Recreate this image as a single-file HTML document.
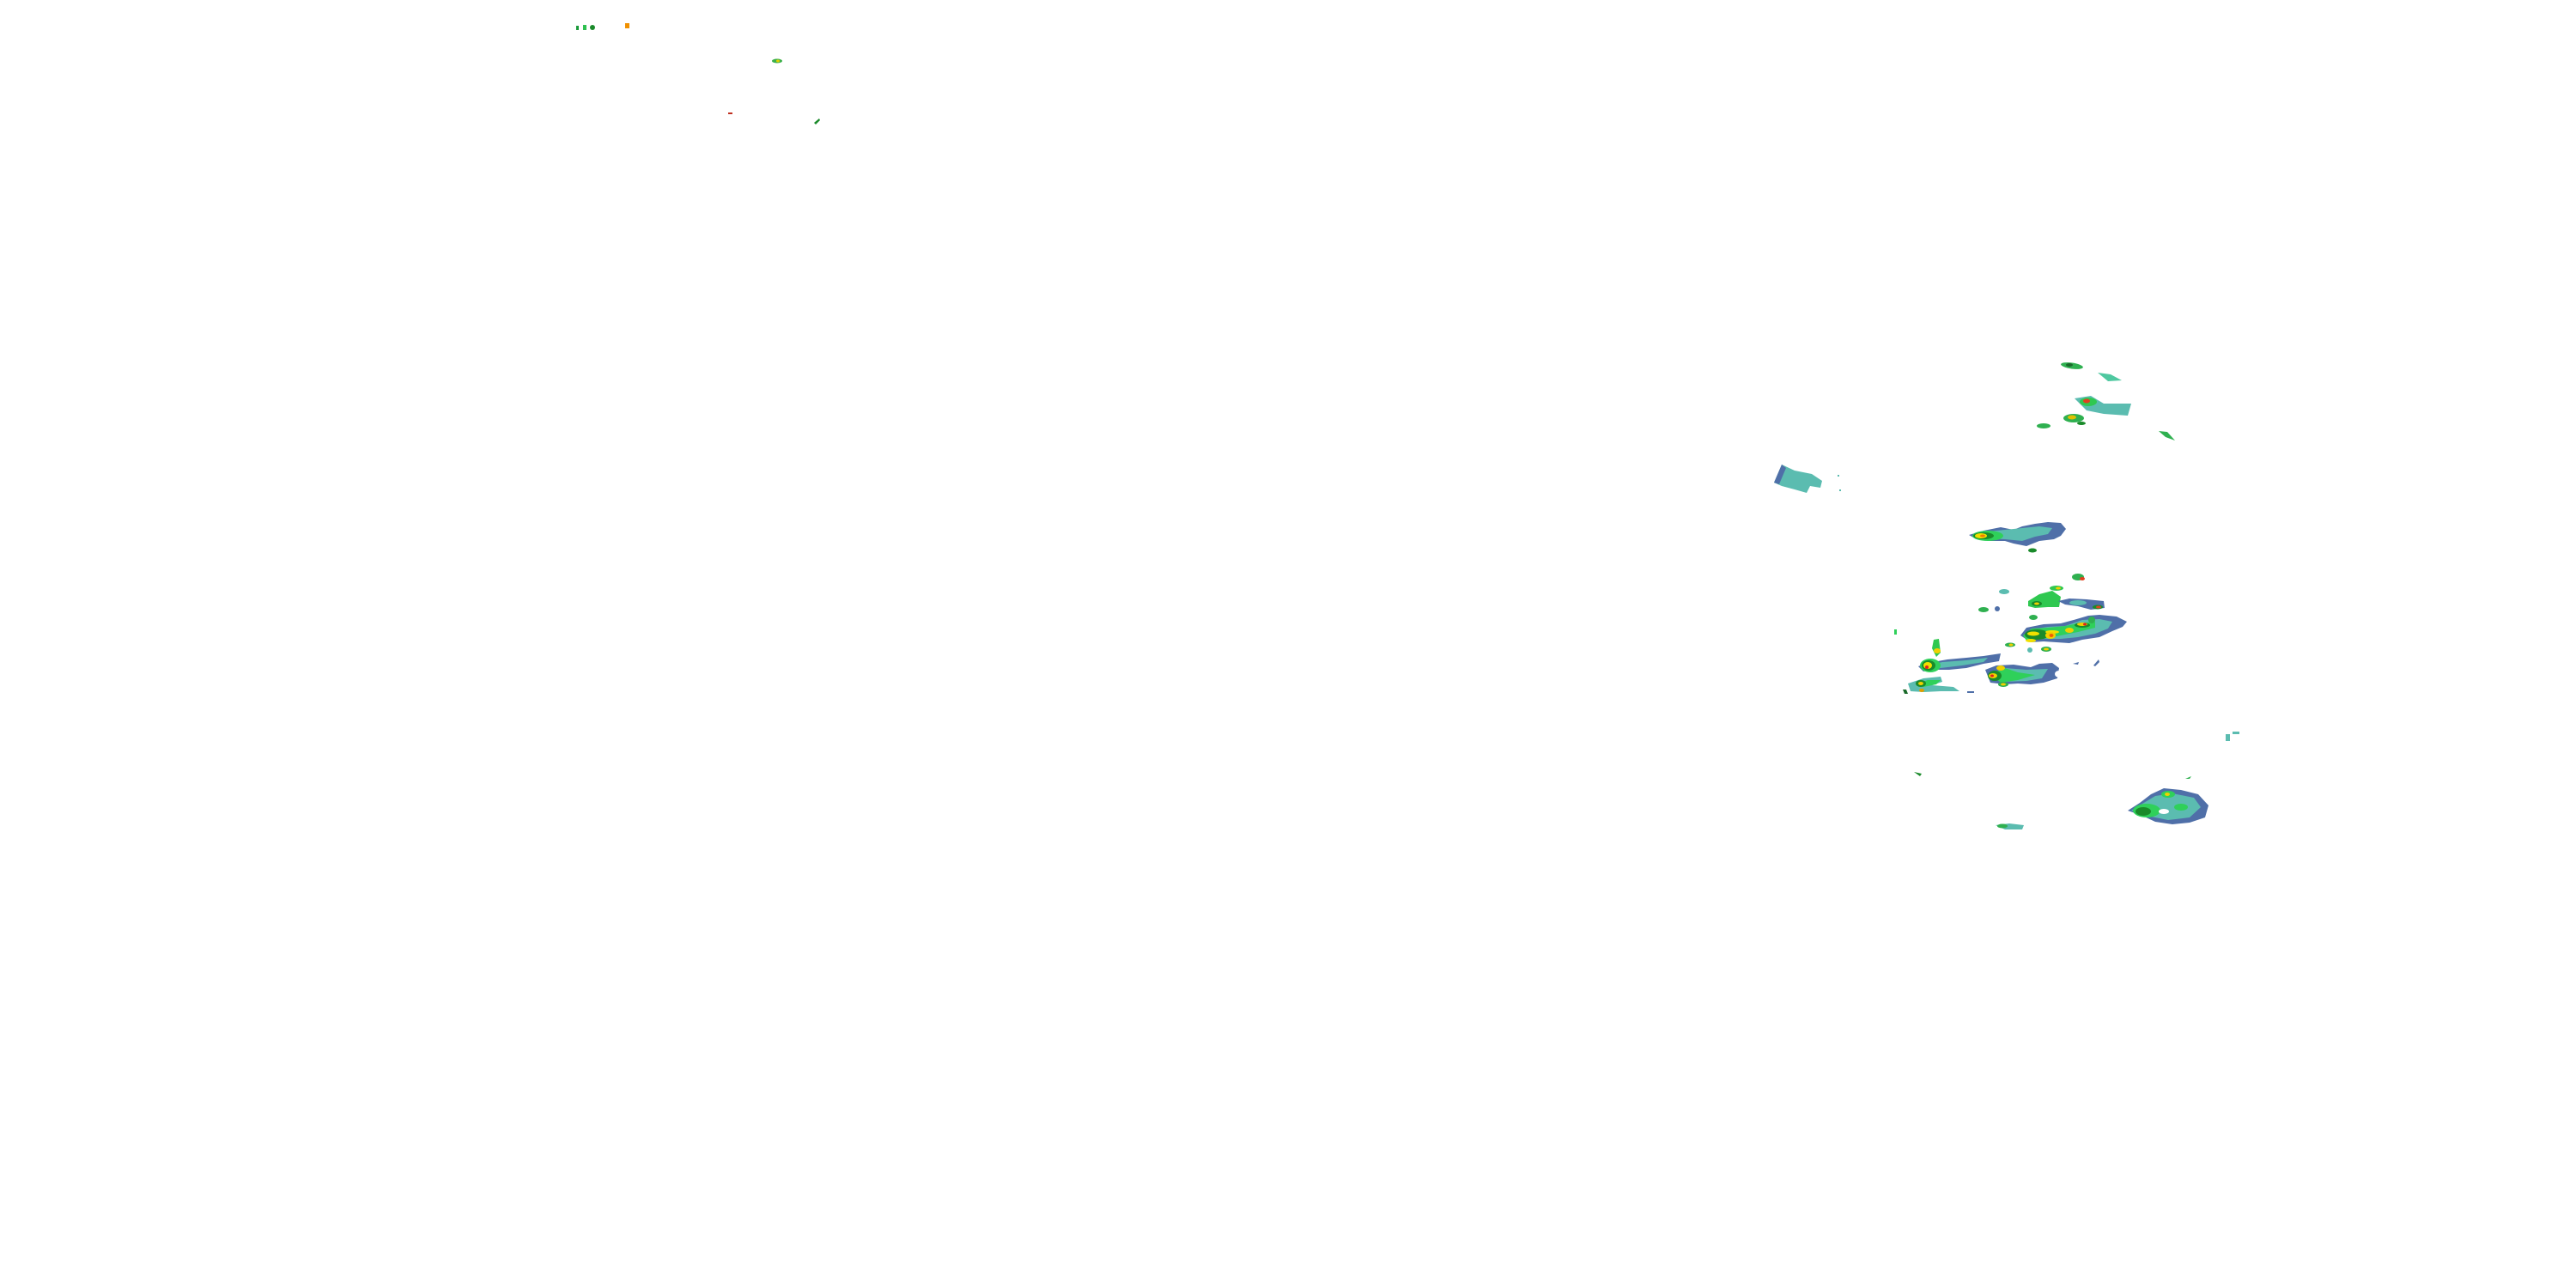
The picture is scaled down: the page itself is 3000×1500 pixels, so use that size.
<!DOCTYPE html>
<html><head><meta charset="utf-8"><style>html,body{margin:0;padding:0;background:#fff}svg{display:block}</style></head>
<body>
<svg width="3000" height="1500" viewBox="0 0 3000 1500" xmlns="http://www.w3.org/2000/svg">
<defs>
<g id="x"></g>
</defs>
<!-- top-left small echoes -->
<rect x="671" y="30" width="3" height="5" fill="#1a9a3a"/>
<rect x="679" y="29" width="4" height="6" fill="#2fc050"/>
<ellipse cx="690" cy="32" rx="3" ry="3" fill="#1a8a2a"/>
<rect x="728" y="27" width="5" height="6" fill="#f09000"/>
<ellipse cx="905" cy="71" rx="6" ry="2.5" fill="#3cb04a"/><ellipse cx="906" cy="71" rx="2" ry="1.5" fill="#e0d000"/>
<rect x="848" y="131" width="5" height="2" fill="#c03020"/>
<path d="M948 143 L954 138 L955 140 L950 145Z" fill="#1a8a2a"/>

<!-- north-east small cells -->
<ellipse cx="2413" cy="426" rx="13" ry="3.5" fill="#2fb050" transform="rotate(8 2413 426)"/>
<ellipse cx="2410" cy="425" rx="4" ry="2" fill="#1a6a2a"/>
<path d="M2443 434 L2458 436 L2471 443 L2455 444Z" fill="#4fc8a0"/>
<path d="M2416 464 L2435 461 L2450 470 L2482 470 L2478 484 L2450 482 L2430 478Z" fill="#5bbcb0"/>
<ellipse cx="2432" cy="468" rx="10" ry="5" fill="#2fc850"/><ellipse cx="2430" cy="467" rx="4" ry="2.5" fill="#e04020"/>
<ellipse cx="2415" cy="487" rx="12" ry="5" fill="#2fb050"/><ellipse cx="2413" cy="486" rx="5" ry="2.5" fill="#e0c000"/>
<ellipse cx="2424" cy="493" rx="5" ry="2" fill="#1a8a2a"/>
<ellipse cx="2380" cy="496" rx="8" ry="3" fill="#2fb050"/>
<path d="M2514 502 L2524 503 L2533 513 L2522 509Z" fill="#2fb050"/>

<!-- western teal cell -->
<path d="M2066 562 L2075 541 L2090 548 L2110 552 L2122 560 L2120 568 L2108 566 L2104 574 L2090 570 L2075 566Z" fill="#5bbcb0"/>
<path d="M2066 562 L2075 541 L2080 545 L2072 564Z" fill="#4f6fa8"/>
<rect x="2140" y="553" width="2" height="2" fill="#5bbcb0"/><rect x="2142" y="570" width="2" height="2" fill="#5bbcb0"/>

<!-- top blob of main cluster -->
<path d="M2293 623 L2310 618 L2330 614 L2345 617 L2355 613 L2370 610 L2385 608 L2400 609 L2406 616 L2400 624 L2392 628 L2375 630 L2360 636 L2345 633 L2335 630 L2318 630 L2300 627Z" fill="#4f6fa8"/>
<path d="M2298 623 L2315 619 L2335 617 L2355 615 L2375 613 L2390 615 L2385 622 L2370 625 L2355 630 L2335 628 L2310 627Z" fill="#5bbcb0"/>
<ellipse cx="2315" cy="624" rx="18" ry="6" fill="#2fd05a"/>
<ellipse cx="2310" cy="624" rx="12" ry="4" fill="#1a8a2a"/>
<ellipse cx="2307" cy="624" rx="7" ry="3" fill="#f0e000"/>
<ellipse cx="2309" cy="624" rx="3" ry="1.5" fill="#f08000"/>
<ellipse cx="2367" cy="641" rx="5" ry="2.5" fill="#1a8a2a"/>

<!-- middle small cells -->
<ellipse cx="2420" cy="672" rx="7" ry="4" fill="#2fb050"/><ellipse cx="2425" cy="674" rx="3" ry="2" fill="#e04020"/>
<ellipse cx="2334" cy="689" rx="6" ry="3" fill="#5bbcb0"/>
<path d="M2362 700 L2375 692 L2390 688 L2400 695 L2398 707 L2385 707 L2370 708 L2362 706Z" fill="#2fc850"/>
<ellipse cx="2372" cy="703" rx="6" ry="3" fill="#1a8a2a"/><ellipse cx="2372" cy="703" rx="3" ry="1.5" fill="#f0d000"/>
<ellipse cx="2395" cy="685" rx="8" ry="3" fill="#2fc850"/><ellipse cx="2397" cy="685" rx="3" ry="1.5" fill="#f0d000"/>
<path d="M2397 700 L2410 697 L2430 698 L2450 700 L2451 708 L2435 710 L2420 706 L2405 704Z" fill="#4f6fa8"/>
<ellipse cx="2420" cy="702" rx="10" ry="3" fill="#5bbcb0"/>
<ellipse cx="2443" cy="707" rx="6" ry="2.5" fill="#1a8a2a"/><ellipse cx="2444" cy="707" rx="3" ry="1.5" fill="#e04020"/>
<ellipse cx="2310" cy="710" rx="6" ry="3" fill="#2fb050"/>
<ellipse cx="2326" cy="709" rx="3" ry="3" fill="#4f6fa8"/>
<ellipse cx="2368" cy="719" rx="5" ry="3" fill="#2fb050"/>
<rect x="2206" y="733" width="3" height="6" fill="#2fd05a"/>

<!-- big east-middle blob -->
<path d="M2353 740 L2360 731 L2380 727 L2400 726 L2415 722 L2432 717 L2445 716 L2465 718 L2477 724 L2472 730 L2460 735 L2445 742 L2425 745 L2410 749 L2395 748 L2380 747 L2365 748Z" fill="#4f6fa8"/>
<path d="M2358 740 L2365 733 L2385 730 L2405 729 L2425 722 L2445 721 L2460 724 L2455 732 L2440 738 L2420 742 L2400 744 L2380 744 L2362 744Z" fill="#5bbcb0"/>
<path d="M2356 740 L2366 732 L2385 731 L2405 729 L2420 726 L2440 724 L2440 731 L2420 736 L2400 740 L2380 744 L2360 746Z" fill="#2fd05a"/>
<ellipse cx="2372" cy="739" rx="14" ry="6" fill="#1a8a2a"/>
<ellipse cx="2368" cy="738" rx="7" ry="2.5" fill="#f0e000"/><ellipse cx="2365" cy="746" rx="6" ry="2" fill="#f0e000"/>
<ellipse cx="2390" cy="736" rx="8" ry="2" fill="#f0e000"/>
<ellipse cx="2388" cy="740" rx="6" ry="4" fill="#f0d000"/><ellipse cx="2389" cy="740" rx="2.5" ry="2" fill="#f06000"/>
<ellipse cx="2410" cy="734" rx="5" ry="3" fill="#f0d000"/>
<ellipse cx="2425" cy="728" rx="9" ry="3" fill="#1a8a2a"/><ellipse cx="2425" cy="727" rx="6" ry="2" fill="#f0d000"/><ellipse cx="2428" cy="727" rx="2" ry="1.5" fill="#e02020"/>
<ellipse cx="2436" cy="722" rx="4" ry="4" fill="#2fb050"/>
<ellipse cx="2341" cy="751" rx="6" ry="2.5" fill="#2fb050"/><ellipse cx="2342" cy="751" rx="2.5" ry="1.5" fill="#f0d000"/>
<ellipse cx="2383" cy="756" rx="6" ry="3" fill="#2fb050"/><ellipse cx="2383" cy="756" rx="3" ry="1.5" fill="#f0d000"/>
<ellipse cx="2364" cy="757" rx="3" ry="3" fill="#5bbcb0"/>
<path d="M2414 773 L2421 771 L2420 774Z" fill="#4f6fa8"/>
<path d="M2438 775 L2444 768 L2445 771 L2440 776Z" fill="#4f6fa8"/>

<!-- bottom-left streak -->
<path d="M2234 776 L2245 772 L2268 768 L2290 766 L2310 764 L2330 761 L2328 770 L2310 773 L2290 778 L2270 780 L2250 780 L2240 782Z" fill="#4f6fa8"/>
<path d="M2240 776 L2262 771 L2290 769 L2315 766 L2310 771 L2285 775 L2260 778Z" fill="#5bbcb0"/>
<ellipse cx="2248" cy="775" rx="12" ry="8" fill="#2fd05a"/>
<ellipse cx="2246" cy="775" rx="8" ry="6" fill="#1a8a2a"/>
<ellipse cx="2245" cy="775" rx="5" ry="4" fill="#f0e000"/><ellipse cx="2244" cy="777" rx="2" ry="2" fill="#e02020"/>
<path d="M2252 745 L2258 744 L2260 760 L2255 765 L2250 755Z" fill="#2fc850"/>
<ellipse cx="2256" cy="758" rx="4" ry="3" fill="#f0d000"/>
<path d="M2222 796 L2240 790 L2260 788 L2262 794 L2250 798 L2275 800 L2282 805 L2260 805 L2240 806 L2225 805Z" fill="#5bbcb0"/>
<path d="M2232 797 L2245 792 L2260 792 L2255 797 L2240 800Z" fill="#2fd05a"/>
<ellipse cx="2237" cy="796" rx="6" ry="4" fill="#1a8a2a"/><ellipse cx="2237" cy="796" rx="3" ry="2" fill="#f0d000"/>
<ellipse cx="2238" cy="804" rx="3" ry="2" fill="#e0a000"/>
<path d="M2216 803 L2220 803 L2222 808 L2218 808Z" fill="#1a6a2a"/>
<rect x="2291" y="805" width="8" height="2" fill="#4f6fa8"/>

<!-- bottom-middle blob -->
<path d="M2312 780 L2325 775 L2345 774 L2365 777 L2375 773 L2390 772 L2398 778 L2396 790 L2380 795 L2365 797 L2350 796 L2335 797 L2318 795Z" fill="#4f6fa8"/>
<path d="M2318 785 L2335 778 L2360 780 L2385 779 L2378 790 L2360 793 L2335 794Z" fill="#5bbcb0"/>
<path d="M2318 785 L2335 778 L2350 783 L2370 786 L2350 792 L2330 795Z" fill="#2fd05a"/>
<ellipse cx="2323" cy="787" rx="8" ry="6" fill="#1a8a2a"/><ellipse cx="2321" cy="787" rx="5" ry="3" fill="#f0d000"/><ellipse cx="2320" cy="787" rx="2" ry="1.5" fill="#e02020"/>
<ellipse cx="2330" cy="778" rx="5" ry="3" fill="#f0d000"/>
<ellipse cx="2333" cy="797" rx="6" ry="3" fill="#2fb050"/><ellipse cx="2333" cy="797" rx="3" ry="1.5" fill="#f0d000"/>
<ellipse cx="2398" cy="785" rx="5" ry="4" fill="#fff"/>

<!-- south cells -->
<rect x="2592" y="855" width="5" height="8" fill="#5bbcb0"/><rect x="2600" y="852" width="8" height="3" fill="#5bbcb0"/>
<path d="M2229 899 L2238 901 L2236 904Z" fill="#1a8a2a"/>
<path d="M2324 961 L2340 959 L2357 961 L2355 966 L2335 966Z" fill="#5bbcb0"/>
<ellipse cx="2332" cy="962" rx="6" ry="2.5" fill="#2fb050"/>
<path d="M2478 944 L2492 935 L2505 925 L2520 918 L2540 920 L2560 925 L2572 938 L2568 952 L2550 958 L2530 960 L2510 957 L2495 950Z" fill="#4f6fa8"/>
<path d="M2482 944 L2495 936 L2510 927 L2530 924 L2555 929 L2563 940 L2550 952 L2525 955 L2500 950Z" fill="#5bbcb0"/>
<ellipse cx="2500" cy="944" rx="16" ry="8" fill="#2fd05a"/>
<ellipse cx="2496" cy="945" rx="9" ry="5" fill="#1a8a2a"/>
<ellipse cx="2525" cy="925" rx="8" ry="4" fill="#2fd05a"/><ellipse cx="2524" cy="925" rx="3" ry="2" fill="#f0d000"/>
<ellipse cx="2540" cy="940" rx="8" ry="4" fill="#2fd05a"/>
<ellipse cx="2520" cy="945" rx="6" ry="3" fill="#fff"/>
<path d="M2545 907 L2552 904 L2550 907Z" fill="#2fb050"/>
</svg>
</body></html>
